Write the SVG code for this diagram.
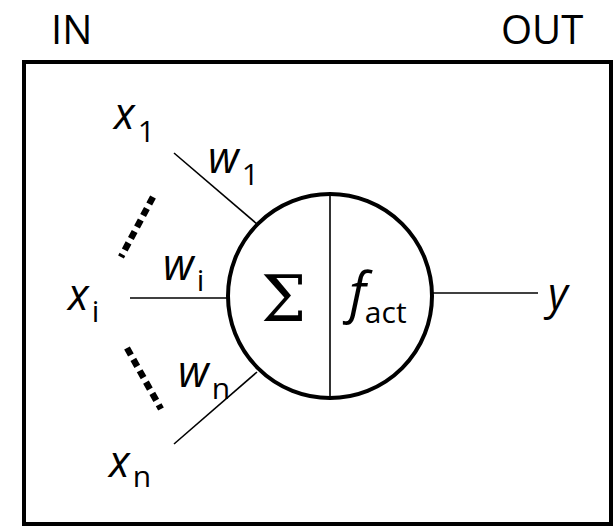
<svg xmlns="http://www.w3.org/2000/svg" width="614" height="528" viewBox="0 0 614 528">
<style>
text{font-family:"Open Sans","Noto Sans","Liberation Sans",sans-serif;fill:#000}
.v{font-style:italic;font-size:43px}
.s{font-size:30px;font-style:normal}
.t{font-size:40px}
text.sig{font-family:"DejaVu Serif","Liberation Serif",serif;font-size:64px;font-weight:normal}
.ln{stroke:#000;stroke-width:1.6;fill:none}
.dot{stroke:#000;stroke-width:6.5;stroke-dasharray:8 5;fill:none}
</style>
<rect x="0" y="0" width="614" height="528" fill="#fff"/>
<g id="frame">
<rect x="24" y="62" width="587" height="462" fill="none" stroke="#000" stroke-width="4"/>
<text class="t" x="51" y="44">IN</text>
<text class="t" x="501" y="44">OUT</text>
</g>
<g id="connectors">
<line class="ln" x1="174" y1="153" x2="257" y2="224"/>
<line class="ln" x1="130" y1="298" x2="228" y2="298"/>
<line class="ln" x1="174" y1="444" x2="257" y2="372"/>
<line class="ln" x1="433" y1="293" x2="538" y2="293"/>
<line class="dot" x1="153" y1="197" x2="121" y2="257"/>
<line class="dot" x1="127" y1="348" x2="161" y2="409"/>
</g>
<g id="neuron">
<circle cx="330" cy="296" r="102" fill="none" stroke="#000" stroke-width="4"/>
<line class="ln" x1="330" y1="194" x2="330" y2="398"/>
<text class="sig" x="261" y="321">Σ</text>
<text class="v" x="349" y="312" style="font-size:54px">f<tspan class="s" dx="-1" dy="11">act</tspan></text>
</g>
<g id="x1"><text class="v" x="114" y="129">x<tspan class="s" dx="3" dy="13">1</tspan></text></g>
<g id="w1"><text class="v" x="208" y="173">w<tspan class="s" dx="3" dy="12">1</tspan></text></g>
<g id="xi"><text class="v" x="68" y="310">x<tspan class="s" dx="3" dy="12">i</tspan></text></g>
<g id="wi"><text class="v" x="163" y="280">w<tspan class="s" dx="3" dy="11">i</tspan></text></g>
<g id="wn"><text class="v" x="178" y="387">w<tspan class="s" dx="3" dy="12">n</tspan></text></g>
<g id="xn"><text class="v" x="109" y="477">x<tspan class="s" dx="3" dy="10">n</tspan></text></g>
<g id="y"><text class="v" x="548" y="309">y</text></g>
</svg>
